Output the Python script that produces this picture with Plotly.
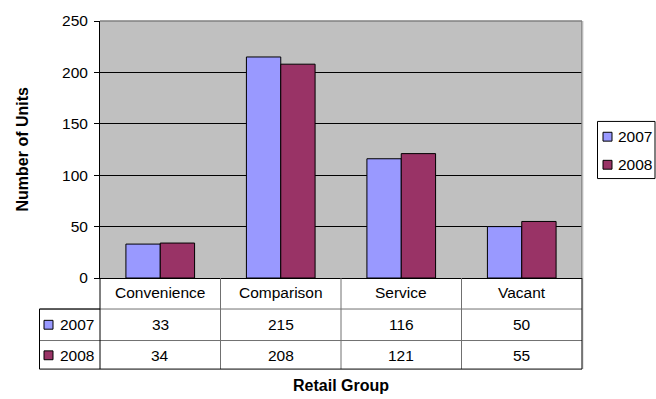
import plotly.graph_objects as go

# Retail units by group, 2007 vs 2008
categories = ["Convenience", "Comparison", "Service", "Vacant"]
series_names = ["2007", "2008"]
units_2007 = [33, 215, 116, 50]
units_2008 = [34, 208, 121, 55]
series_values = [units_2007, units_2008]
series_colors = ["#9999FF", "#993366"]
y_ticks = [0, 50, 100, 150, 200, 250]

W, H = 656, 399
L, R, T, B = 100, 74, 17, 121
PW, PH = W - L - R, H - T - B
FONT = "Liberation Sans, Arial, sans-serif"
FS = 15.5


def px_x(px):
    return (px - L) / PW


def px_y(py):
    return (H - B - py) / PH


fig = go.Figure()
for name, vals, col in zip(series_names, series_values, series_colors):
    fig.add_trace(go.Bar(
        x=list(range(len(categories))), y=vals, name=name,
        marker=dict(color=col, line=dict(color="black", width=1)),
        showlegend=False,
    ))

shapes = []
annotations = []

# plot-area frame: grey top/right edges
shapes.append(dict(type="line", xref="paper", yref="paper", x0=0, x1=1, y0=1, y1=1,
                   line=dict(color="#808080", width=1.5)))
shapes.append(dict(type="line", xref="paper", yref="paper", x0=1, x1=1, y0=0, y1=1,
                   line=dict(color="#808080", width=1.5)))
shapes.append(dict(type="line", xref="paper", yref="paper", x0=px_x(583), x1=px_x(583),
                   y0=px_y(370.5), y1=1, line=dict(color="#D0D0D0", width=1)))

# data table below the plot
row_hdr = 292.5
row_centers = [325.5, 356.5]
row_lines = [309.5, 341.5]
tab_bottom = 370.5
tab_left = 39.5
grid_col = "#707070"

# vertical separators between categories
for i in range(len(categories) - 1):
    shapes.append(dict(type="line", xref="x", yref="paper", x0=i + 0.5, x1=i + 0.5,
                       y0=px_y(tab_bottom), y1=0, line=dict(color=grid_col, width=1)))
# horizontal row lines
for yl in row_lines:
    shapes.append(dict(type="line", xref="paper", yref="paper", x0=px_x(tab_left), x1=1,
                       y0=px_y(yl), y1=px_y(yl), line=dict(color=grid_col, width=1)))
# outer borders
shapes.append(dict(type="line", xref="paper", yref="paper", x0=px_x(tab_left), x1=1,
                   y0=px_y(tab_bottom), y1=px_y(tab_bottom), line=dict(color="black", width=1)))
shapes.append(dict(type="line", xref="paper", yref="paper", x0=px_x(tab_left), x1=px_x(tab_left),
                   y0=px_y(tab_bottom), y1=px_y(row_lines[0]), line=dict(color="black", width=1)))
shapes.append(dict(type="line", xref="paper", yref="paper", x0=px_x(tab_left), x1=px_x(100),
                   y0=px_y(row_lines[0]), y1=px_y(row_lines[0]), line=dict(color="black", width=1)))
shapes.append(dict(type="line", xref="paper", yref="paper", x0=0, x1=0,
                   y0=px_y(tab_bottom), y1=0, line=dict(color="black", width=1)))
shapes.append(dict(type="line", xref="paper", yref="paper", x0=1, x1=1,
                   y0=px_y(tab_bottom), y1=0, line=dict(color="black", width=1)))

# header row: category names
for i, c in enumerate(categories):
    annotations.append(dict(x=i, y=px_y(row_hdr), xref="x", yref="paper", text=c,
                            showarrow=False, xanchor="center", yanchor="middle",
                            font=dict(family=FONT, size=FS, color="black")))

# value rows with series keys
for name, vals, col, yc in zip(series_names, series_values, series_colors, row_centers):
    for i, v in enumerate(vals):
        annotations.append(dict(x=i, y=px_y(yc), xref="x", yref="paper", text=str(v),
                                showarrow=False, xanchor="center", yanchor="middle",
                                font=dict(family=FONT, size=FS, color="black")))
    shapes.append(dict(type="rect", xref="paper", yref="paper",
                       x0=px_x(44), x1=px_x(53), y0=px_y(yc + 4.5), y1=px_y(yc - 4.5),
                       fillcolor=col, line=dict(color="black", width=1)))
    annotations.append(dict(x=px_x(57.5), y=px_y(yc), xref="paper", yref="paper", text=name,
                            showarrow=False, xanchor="left", yanchor="middle",
                            font=dict(family=FONT, size=FS, color="black")))

# legend box
leg_x0, leg_x1, leg_y0, leg_y1 = 597.5, 655, 119, 177
shapes.append(dict(type="rect", xref="paper", yref="paper",
                   x0=px_x(leg_x0), x1=px_x(leg_x1), y0=px_y(leg_y1), y1=px_y(leg_y0),
                   fillcolor="white", line=dict(color="black", width=1)))
for name, col, yc in zip(series_names, series_colors, [134.5, 163]):
    shapes.append(dict(type="rect", xref="paper", yref="paper",
                       x0=px_x(603), x1=px_x(612), y0=px_y(yc + 4.5), y1=px_y(yc - 4.5),
                       fillcolor=col, line=dict(color="black", width=1)))
    annotations.append(dict(x=px_x(615.5), y=px_y(yc), xref="paper", yref="paper", text=name,
                            showarrow=False, xanchor="left", yanchor="middle",
                            font=dict(family=FONT, size=FS, color="black")))

# axis titles
annotations.append(dict(x=px_x(22.5), y=px_y(147), xref="paper", yref="paper",
                        text="<b>Number of Units</b>", textangle=-90, showarrow=False,
                        xanchor="center", yanchor="middle",
                        font=dict(family=FONT, size=16, color="black")))
annotations.append(dict(x=0.5, y=px_y(387), xref="paper", yref="paper",
                        text="<b>Retail Group</b>", showarrow=False,
                        xanchor="center", yanchor="middle",
                        font=dict(family=FONT, size=16, color="black")))

fig.update_layout(
    width=W, height=H,
    margin=dict(l=L, r=R, t=T, b=B, pad=0),
    paper_bgcolor="white", plot_bgcolor="#C0C0C0",
    barmode="group", bargap=0.43, bargroupgap=0,
    shapes=shapes, annotations=annotations,
    font=dict(family=FONT, size=FS, color="black"),
)
fig.update_xaxes(range=[-0.5, len(categories) - 0.5], showticklabels=False, ticks="",
                 showgrid=False, zeroline=False, showline=True, linecolor="black", linewidth=1)
fig.update_yaxes(range=[0, 250], tickvals=y_ticks, ticks="outside", ticklen=5,
                 tickcolor="black", tickwidth=1, showgrid=True, gridcolor="black", gridwidth=1,
                 zeroline=False, showline=True, linecolor="black", linewidth=1,
                 ticklabelstandoff=3,
                 tickfont=dict(family=FONT, size=FS, color="black"))

fig.write_html("out.html")
